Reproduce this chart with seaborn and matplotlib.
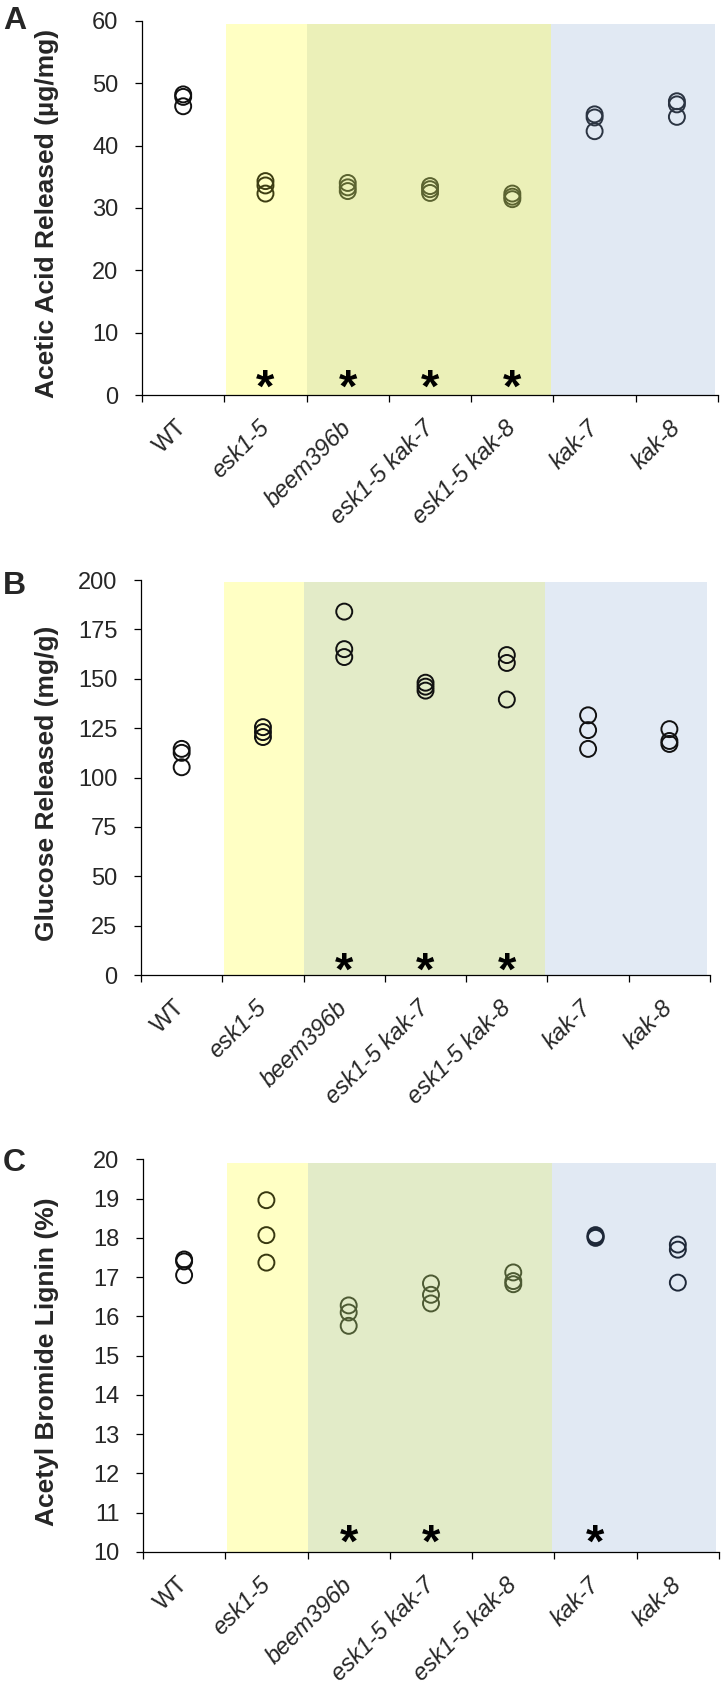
import numpy as np
import pandas as pd
import matplotlib
matplotlib.use("Agg")
import matplotlib.pyplot as plt
import seaborn as sns

# ---------------- data ----------------
genotypes = ["WT", "esk1-5", "beem396b", "esk1-5 kak-7", "esk1-5 kak-8", "kak-7", "kak-8"]

acetic = [
    [48.2, 47.8, 46.3],
    [34.3, 33.6, 32.3],
    [34.0, 33.3, 32.7],
    [33.5, 33.0, 32.4],
    [32.3, 31.8, 31.4],
    [45.0, 44.5, 42.3],
    [47.1, 46.6, 44.6],
]
glucose = [
    [114.5, 112.5, 105.2],
    [125.5, 123.0, 120.5],
    [184.0, 165.0, 161.0],
    [148.0, 146.0, 144.0],
    [162.0, 158.0, 139.5],
    [131.5, 124.0, 114.5],
    [124.5, 118.5, 117.0],
]
lignin = [
    [17.45, 17.40, 17.05],
    [18.96, 18.07, 17.37],
    [16.28, 16.10, 15.76],
    [16.84, 16.55, 16.33],
    [17.12, 16.90, 16.82],
    [18.07, 18.03, 18.00],
    [17.83, 17.70, 16.86],
]

sig_acetic = ["esk1-5", "beem396b", "esk1-5 kak-7", "esk1-5 kak-8"]
sig_glucose = ["beem396b", "esk1-5 kak-7", "esk1-5 kak-8"]
sig_lignin = ["beem396b", "esk1-5 kak-7", "kak-7"]

yticks_acetic = [0, 10, 20, 30, 40, 50, 60]
yticks_glucose = [0, 25, 50, 75, 100, 125, 150, 175, 200]
yticks_lignin = [10, 11, 12, 13, 14, 15, 16, 17, 18, 19, 20]

ylabels = ["Acetic Acid Released (µg/mg)", "Glucose Released (mg/g)", "Acetyl Bromide Lignin (%)"]
panel_letters = ["A", "B", "C"]

# ---------------- style ----------------
sns.set_style("ticks")
plt.rcParams["font.family"] = ["Liberation Sans", "DejaVu Sans"]

fig = plt.figure(figsize=(7.21, 16.91), dpi=100)

axes_pos = [
    [0.197, 0.7664, 0.7989, 0.2213],
    [0.1956, 0.4234, 0.7892, 0.2336],
    [0.1983, 0.0822, 0.7989, 0.2322],
]
edge_cols = [
    ["#111111", "#3d3d12", "#5b6330", "#5b6330", "#5b6330", "#2b3442", "#2b3442"],
    ["#111111"] * 7,
    ["#111111", "#383810", "#4d5a33", "#4d5a33", "#4d5a33", "#1e2838", "#1e2838"],
]
bg_cols = [
    ("#FFFFC3", "#EBF0B8", "#E1E9F3"),
    ("#FFFFC4", "#E3EBC8", "#E2EAF4"),
    ("#FFFFC4", "#E2EBC8", "#E1E9F3"),
]
shade_top = [0.992, 0.995, 0.991]
star_y = [2.9, 8.0, 10.52]
ylims = [(0, 60), (0, 200), (10, 20)]
letter_top_px = [6, 571, 1148]
star_fs = 34

datasets = [acetic, glucose, lignin]
sigs = [sig_acetic, sig_glucose, sig_lignin]
ytick_sets = [yticks_acetic, yticks_glucose, yticks_lignin]

for i in range(3):
    ax = fig.add_axes(axes_pos[i])
    vals = datasets[i]
    df = pd.DataFrame({
        "genotype": [g for g, v in zip(genotypes, vals) for _ in v],
        "value": [x for v in vals for x in v],
    })
    sns.stripplot(data=df, x="genotype", y="value", hue="genotype",
                  order=genotypes, hue_order=genotypes,
                  palette=dict(zip(genotypes, edge_cols[i])),
                  jitter=False, size=11.5, linewidth=0, legend=False,
                  ax=ax, zorder=3)
    for coll in ax.collections:
        fc = coll.get_facecolors()
        coll.set_facecolors("none")
        coll.set_edgecolors(fc)
        coll.set_linewidths(1.4)

    # background shading
    y_c, g_c, b_c = bg_cols[i]
    ax.axvspan(0.52, 1.5, ymin=0, ymax=shade_top[i], color=y_c, lw=0, zorder=0)
    ax.axvspan(1.5, 4.47, ymin=0, ymax=shade_top[i], color=g_c, lw=0, zorder=0)
    ax.axvspan(4.47, 6.46, ymin=0, ymax=shade_top[i], color=b_c, lw=0, zorder=0)

    # significance asterisks (glyph centred on star_y)
    for g in sigs[i]:
        ax.annotate("*", xy=(genotypes.index(g), star_y[i]),
                    xytext=(0, -0.53 * star_fs), textcoords="offset points",
                    ha="center", va="baseline", fontsize=star_fs,
                    fontweight="bold", color="black", zorder=4)

    ax.set_xlim(-0.5, 6.5)
    ax.set_ylim(*ylims[i])
    ax.set_yticks(ytick_sets[i])
    ax.set_yticklabels([str(t) for t in ytick_sets[i]])
    ax.set_xticks(range(len(genotypes)))
    ax.set_xticks(np.arange(-0.5, 7.0, 1.0), minor=True)
    ax.set_xticklabels(genotypes)
    for lab in ax.get_xticklabels():
        lab.set_rotation(45)
        lab.set_ha("right")
        lab.set_va("center")
        lab.set_rotation_mode("anchor")
        lab.set_fontsize(17)
        if lab.get_text() != "WT":
            lab.set_fontstyle("italic")
    ax.tick_params(axis="x", which="major", length=0, pad=21)
    ax.tick_params(axis="x", which="minor", length=5, width=0.9, direction="out", color="black")
    ax.tick_params(axis="y", which="major", length=5, width=0.9, direction="out",
                   pad=12, labelsize=17, color="black")

    for side in ["top", "right"]:
        ax.spines[side].set_visible(False)
    for side in ["left", "bottom"]:
        ax.spines[side].set_color("black")
        ax.spines[side].set_linewidth(0.9)
    ax.set_facecolor("white")

    ax.set_xlabel("")
    ax.set_ylabel(ylabels[i], fontsize=19, fontweight="bold")
    ax.yaxis.set_label_coords(-0.145, 0.485)

    fig.text(3 / 721, 1 - letter_top_px[i] / 1691, panel_letters[i],
             fontsize=23, fontweight="bold", ha="left", va="top")

fig.savefig("out.png", dpi=100)
